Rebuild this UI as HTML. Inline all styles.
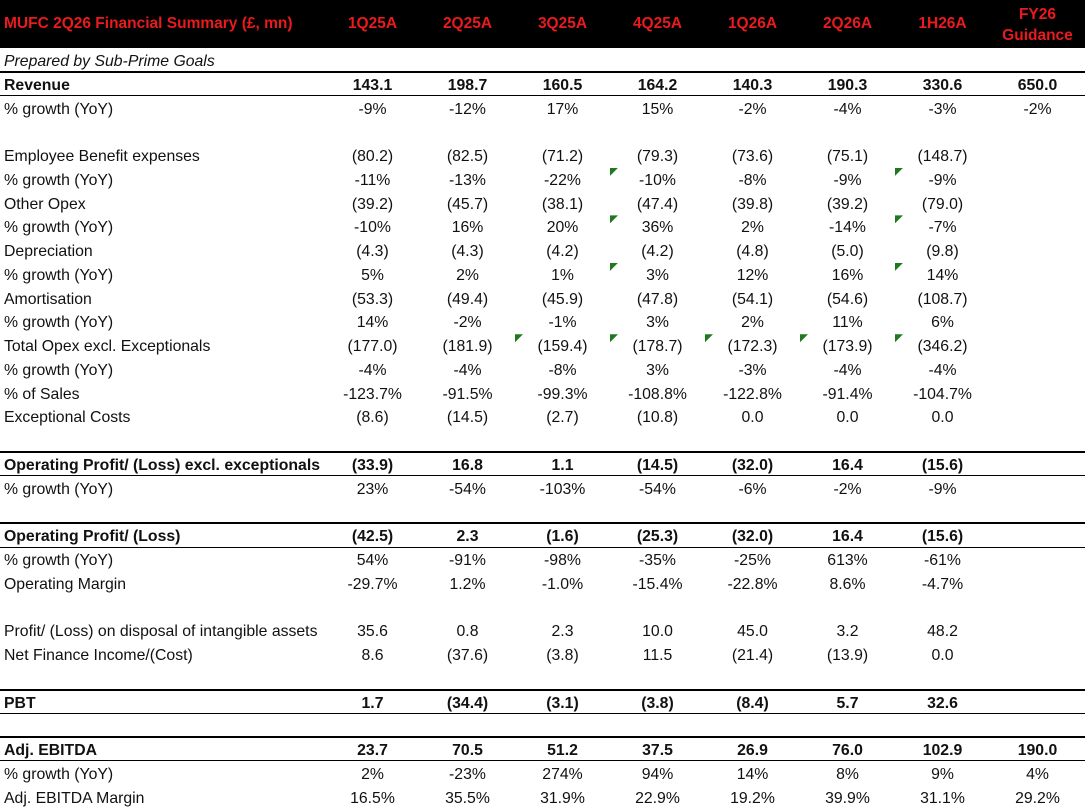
<!DOCTYPE html>
<html><head><meta charset="utf-8">
<style>
*{margin:0;padding:0;box-sizing:border-box;}
html,body{width:1085px;height:809px;background:#fff;overflow:hidden;}
body{font-family:"Liberation Sans",Arial,sans-serif;color:#111;position:relative;}
.hdr{position:absolute;left:0;top:0;width:1085px;height:48px;background:#000;color:#ea1a1d;font-weight:bold;font-size:15.5px;}
.hdr .t{position:absolute;left:4px;top:0;height:48px;line-height:48px;white-space:nowrap;}
.hdr .c{position:absolute;top:0;width:95px;height:48px;line-height:48px;text-align:center;white-space:nowrap;}
.hdr .c2{position:absolute;top:4px;width:95px;line-height:21px;text-align:center;}
.tbl{position:absolute;left:0;top:48px;width:1085px;}
.r{position:relative;height:23.78px;display:flex;font-size:15.8px;line-height:23.78px;white-space:nowrap;}
.r .l{width:325px;padding-left:4px;padding-top:2px;}
.r .v{width:95px;text-align:center;position:relative;padding-top:2px;}
.b{font-weight:bold;}
.b::before{content:"";position:absolute;left:0;top:-1px;width:1085px;height:2px;background:#000;}
.b::after{content:"";position:absolute;left:0;bottom:-0.5px;width:1085px;height:1px;background:#000;}
.i{font-style:italic;}
.g::before{content:"";position:absolute;left:0;top:1px;width:8px;height:8px;background:#1f7a1f;clip-path:polygon(0 0,100% 0,0 100%);}
</style></head><body>
<div class="hdr">
<div class="t">MUFC 2Q26 Financial Summary (£, mn)</div>
<div class="c" style="left:325px">1Q25A</div>
<div class="c" style="left:420px">2Q25A</div>
<div class="c" style="left:515px">3Q25A</div>
<div class="c" style="left:610px">4Q25A</div>
<div class="c" style="left:705px">1Q26A</div>
<div class="c" style="left:800px">2Q26A</div>
<div class="c" style="left:895px">1H26A</div>
<div class="c2" style="left:990px">FY26<br>Guidance</div>
</div>
<div class="tbl">
<div class="r"><div class="l i">Prepared by Sub-Prime Goals</div></div>
<div class="r b"><div class="l">Revenue</div><div class="v">143.1</div><div class="v">198.7</div><div class="v">160.5</div><div class="v">164.2</div><div class="v">140.3</div><div class="v">190.3</div><div class="v">330.6</div><div class="v">650.0</div></div>
<div class="r"><div class="l">% growth (YoY)</div><div class="v">-9%</div><div class="v">-12%</div><div class="v">17%</div><div class="v">15%</div><div class="v">-2%</div><div class="v">-4%</div><div class="v">-3%</div><div class="v">-2%</div></div>
<div class="r"></div>
<div class="r"><div class="l">Employee Benefit expenses</div><div class="v">(80.2)</div><div class="v">(82.5)</div><div class="v">(71.2)</div><div class="v">(79.3)</div><div class="v">(73.6)</div><div class="v">(75.1)</div><div class="v">(148.7)</div><div class="v"></div></div>
<div class="r"><div class="l">% growth (YoY)</div><div class="v">-11%</div><div class="v">-13%</div><div class="v">-22%</div><div class="v g">-10%</div><div class="v">-8%</div><div class="v">-9%</div><div class="v g">-9%</div><div class="v"></div></div>
<div class="r"><div class="l">Other Opex</div><div class="v">(39.2)</div><div class="v">(45.7)</div><div class="v">(38.1)</div><div class="v">(47.4)</div><div class="v">(39.8)</div><div class="v">(39.2)</div><div class="v">(79.0)</div><div class="v"></div></div>
<div class="r"><div class="l">% growth (YoY)</div><div class="v">-10%</div><div class="v">16%</div><div class="v">20%</div><div class="v g">36%</div><div class="v">2%</div><div class="v">-14%</div><div class="v g">-7%</div><div class="v"></div></div>
<div class="r"><div class="l">Depreciation</div><div class="v">(4.3)</div><div class="v">(4.3)</div><div class="v">(4.2)</div><div class="v">(4.2)</div><div class="v">(4.8)</div><div class="v">(5.0)</div><div class="v">(9.8)</div><div class="v"></div></div>
<div class="r"><div class="l">% growth (YoY)</div><div class="v">5%</div><div class="v">2%</div><div class="v">1%</div><div class="v g">3%</div><div class="v">12%</div><div class="v">16%</div><div class="v g">14%</div><div class="v"></div></div>
<div class="r"><div class="l">Amortisation</div><div class="v">(53.3)</div><div class="v">(49.4)</div><div class="v">(45.9)</div><div class="v">(47.8)</div><div class="v">(54.1)</div><div class="v">(54.6)</div><div class="v">(108.7)</div><div class="v"></div></div>
<div class="r"><div class="l">% growth (YoY)</div><div class="v">14%</div><div class="v">-2%</div><div class="v">-1%</div><div class="v">3%</div><div class="v">2%</div><div class="v">11%</div><div class="v">6%</div><div class="v"></div></div>
<div class="r"><div class="l">Total Opex excl. Exceptionals</div><div class="v">(177.0)</div><div class="v">(181.9)</div><div class="v g">(159.4)</div><div class="v g">(178.7)</div><div class="v g">(172.3)</div><div class="v g">(173.9)</div><div class="v g">(346.2)</div><div class="v"></div></div>
<div class="r"><div class="l">% growth (YoY)</div><div class="v">-4%</div><div class="v">-4%</div><div class="v">-8%</div><div class="v">3%</div><div class="v">-3%</div><div class="v">-4%</div><div class="v">-4%</div><div class="v"></div></div>
<div class="r"><div class="l">% of Sales</div><div class="v">-123.7%</div><div class="v">-91.5%</div><div class="v">-99.3%</div><div class="v">-108.8%</div><div class="v">-122.8%</div><div class="v">-91.4%</div><div class="v">-104.7%</div><div class="v"></div></div>
<div class="r"><div class="l">Exceptional Costs</div><div class="v">(8.6)</div><div class="v">(14.5)</div><div class="v">(2.7)</div><div class="v">(10.8)</div><div class="v">0.0</div><div class="v">0.0</div><div class="v">0.0</div><div class="v"></div></div>
<div class="r"></div>
<div class="r b"><div class="l">Operating Profit/ (Loss) excl. exceptionals</div><div class="v">(33.9)</div><div class="v">16.8</div><div class="v">1.1</div><div class="v">(14.5)</div><div class="v">(32.0)</div><div class="v">16.4</div><div class="v">(15.6)</div><div class="v"></div></div>
<div class="r"><div class="l">% growth (YoY)</div><div class="v">23%</div><div class="v">-54%</div><div class="v">-103%</div><div class="v">-54%</div><div class="v">-6%</div><div class="v">-2%</div><div class="v">-9%</div><div class="v"></div></div>
<div class="r"></div>
<div class="r b"><div class="l">Operating Profit/ (Loss)</div><div class="v">(42.5)</div><div class="v">2.3</div><div class="v">(1.6)</div><div class="v">(25.3)</div><div class="v">(32.0)</div><div class="v">16.4</div><div class="v">(15.6)</div><div class="v"></div></div>
<div class="r"><div class="l">% growth (YoY)</div><div class="v">54%</div><div class="v">-91%</div><div class="v">-98%</div><div class="v">-35%</div><div class="v">-25%</div><div class="v">613%</div><div class="v">-61%</div><div class="v"></div></div>
<div class="r"><div class="l">Operating Margin</div><div class="v">-29.7%</div><div class="v">1.2%</div><div class="v">-1.0%</div><div class="v">-15.4%</div><div class="v">-22.8%</div><div class="v">8.6%</div><div class="v">-4.7%</div><div class="v"></div></div>
<div class="r"></div>
<div class="r"><div class="l">Profit/ (Loss) on disposal of intangible assets</div><div class="v">35.6</div><div class="v">0.8</div><div class="v">2.3</div><div class="v">10.0</div><div class="v">45.0</div><div class="v">3.2</div><div class="v">48.2</div><div class="v"></div></div>
<div class="r"><div class="l">Net Finance Income/(Cost)</div><div class="v">8.6</div><div class="v">(37.6)</div><div class="v">(3.8)</div><div class="v">11.5</div><div class="v">(21.4)</div><div class="v">(13.9)</div><div class="v">0.0</div><div class="v"></div></div>
<div class="r"></div>
<div class="r b"><div class="l">PBT</div><div class="v">1.7</div><div class="v">(34.4)</div><div class="v">(3.1)</div><div class="v">(3.8)</div><div class="v">(8.4)</div><div class="v">5.7</div><div class="v">32.6</div><div class="v"></div></div>
<div class="r"></div>
<div class="r b"><div class="l">Adj. EBITDA</div><div class="v">23.7</div><div class="v">70.5</div><div class="v">51.2</div><div class="v">37.5</div><div class="v">26.9</div><div class="v">76.0</div><div class="v">102.9</div><div class="v">190.0</div></div>
<div class="r"><div class="l">% growth (YoY)</div><div class="v">2%</div><div class="v">-23%</div><div class="v">274%</div><div class="v">94%</div><div class="v">14%</div><div class="v">8%</div><div class="v">9%</div><div class="v">4%</div></div>
<div class="r"><div class="l">Adj. EBITDA Margin</div><div class="v">16.5%</div><div class="v">35.5%</div><div class="v">31.9%</div><div class="v">22.9%</div><div class="v">19.2%</div><div class="v">39.9%</div><div class="v">31.1%</div><div class="v">29.2%</div></div>
</div>
</body></html>
